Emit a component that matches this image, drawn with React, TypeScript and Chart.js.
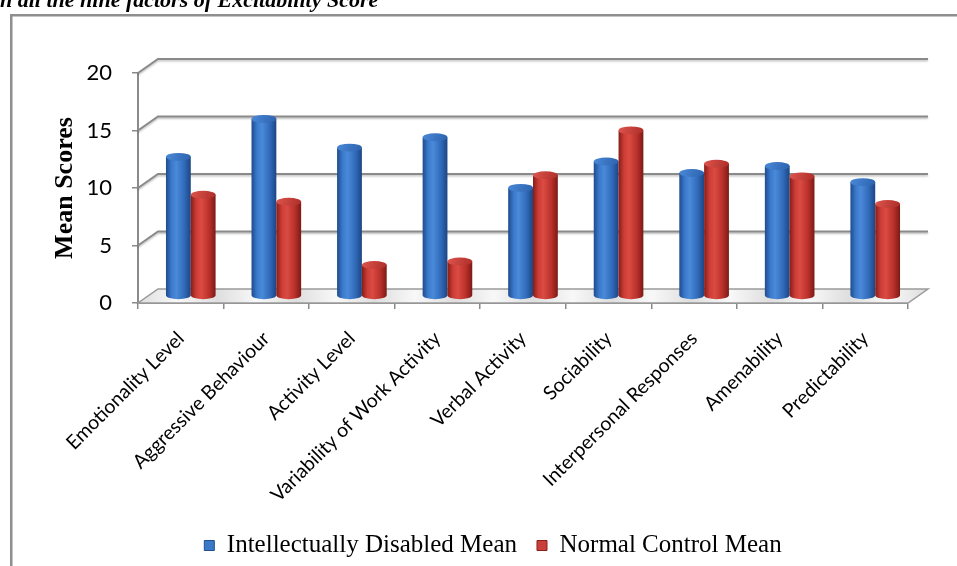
import { useEffect, useRef } from "react";
import { Chart, registerables } from "chart.js";

Chart.register(...registerables);

// Factor names along the category axis
const categories = [
  "Emotionality Level",
  "Aggressive Behaviour",
  "Activity Level",
  "Variability of Work Activity",
  "Verbal Activity",
  "Sociability",
  "Interpersonal Responses",
  "Amenability",
  "Predictability",
];

// Mean scores per factor
const disabledMean = [12.1, 15.4, 12.9, 13.8, 9.4, 11.7, 10.7, 11.3, 9.9];
const controlMean = [8.8, 8.2, 2.7, 3.0, 10.5, 14.4, 11.5, 10.4, 8.0];

const seriesLabels = ["Intellectually Disabled Mean", "Normal Control Mean"];
const yTickValues = [0, 5, 10, 15, 20];
const captionText = "n all the nine factors of Excitability Score";

// Oblique projection of the plot box depth
const DEPTH_X = 20;
const DEPTH_Y = 14;
const PLOT_BOTTOM = 303;
const PAD_BOTTOM = -2;
const LEGEND_SHIFT = 39;

const GRID_GRAY = "#8a8a8a";

type Shade = { stops: [number, string][]; cap: string; capEdge: string };
const shades: Shade[] = [
  {
    stops: [
      [0, "#1f4b8c"],
      [0.22, "#3a79cc"],
      [0.42, "#4a8ad9"],
      [0.75, "#2f69b8"],
      [1, "#1d4582"],
    ],
    cap: "#4a89d8",
    capEdge: "#2c62ad",
  },
  {
    stops: [
      [0, "#861c18"],
      [0.22, "#cc3d36"],
      [0.42, "#db4b43"],
      [0.75, "#b8302a"],
      [1, "#7c1915"],
    ],
    cap: "#de554d",
    capEdge: "#ad2d28",
  },
];

const frame3d = {
  id: "frame3d",
  beforeDraw(chart: any) {
    const { ctx } = chart;
    ctx.save();
    ctx.strokeStyle = "#8e8e8e";
    ctx.lineWidth = 2.5;
    ctx.strokeRect(11.25, 15.25, chart.width + 40, chart.height + 40);
    ctx.fillStyle = "#000";
    ctx.font = 'italic bold 22px "Liberation Serif"';
    ctx.textBaseline = "alphabetic";
    ctx.textAlign = "left";
    ctx.fillText(captionText, 0, 7);
    ctx.restore();
  },
  afterLayout(chart: any) {
    const lg = chart.legend;
    if (lg) {
      lg.left += LEGEND_SHIFT;
      lg.right += LEGEND_SHIFT;
    }
    // let the long slanted category labels run past the legend's top edge
    const xs = chart.scales.x;
    if (xs) xs.bottom = chart.height;
  },
  beforeDatasetDraw() {
    return false;
  },
  beforeDatasetsDraw(chart: any) {
    const { ctx, chartArea } = chart;
    const { left, right, bottom } = chartArea;
    const y = chart.scales.y;
    ctx.save();

    // floor
    ctx.beginPath();
    ctx.moveTo(left, bottom);
    ctx.lineTo(right, bottom);
    ctx.lineTo(right + DEPTH_X, bottom - DEPTH_Y);
    ctx.lineTo(left + DEPTH_X, bottom - DEPTH_Y);
    ctx.closePath();
    const flat = ctx.createLinearGradient(left, 0, right + DEPTH_X, 0);
    for (let i = 0; i <= 20; i++) {
      flat.addColorStop(i / 20, i % 2 === 0 ? "#dedede" : "#f8f8f8");
    }
    ctx.fillStyle = flat;
    ctx.fill();
    ctx.lineWidth = 1.5;
    ctx.strokeStyle = "#9a9a9a";
    ctx.stroke();

    // back and side wall gridlines
    ctx.strokeStyle = GRID_GRAY;
    ctx.lineWidth = 2;
    ctx.shadowColor = "rgba(0,0,0,0.25)";
    ctx.shadowOffsetY = 1.5;
    ctx.shadowBlur = 2;
    for (const v of yTickValues) {
      if (v === 0) continue;
      const py = y.getPixelForValue(v);
      ctx.beginPath();
      ctx.moveTo(left, py);
      ctx.lineTo(left + DEPTH_X, py - DEPTH_Y);
      ctx.lineTo(right + DEPTH_X, py - DEPTH_Y);
      ctx.stroke();
    }
    ctx.restore();
  },
  afterDatasetsDraw(chart: any) {
    const { ctx } = chart;
    ctx.save();
    const n = chart.data.labels.length;
    for (let idx = 0; idx < n; idx++) {
      chart.data.datasets.forEach((_ds: any, di: number) => {
        const meta = chart.getDatasetMeta(di);
        const el = meta.data[idx];
        if (!el) return;
        const { x, y, base, width } = el.getProps(["x", "y", "base", "width"], true);
        const shade = shades[di];
        const cx = x + DEPTH_X / 2;
        const top = y - DEPTH_Y / 2;
        const bot = base - DEPTH_Y / 2;
        const rx = width / 2;
        const ry = width * 0.16;

        const g = ctx.createLinearGradient(cx - rx, 0, cx + rx, 0);
        shade.stops.forEach(([o, c]) => g.addColorStop(o, c));
        ctx.beginPath();
        ctx.moveTo(cx - rx, top);
        ctx.lineTo(cx - rx, bot);
        ctx.ellipse(cx, bot, rx, ry, 0, Math.PI, 0, true);
        ctx.lineTo(cx + rx, top);
        ctx.closePath();
        ctx.fillStyle = g;
        ctx.fill();

        ctx.beginPath();
        ctx.ellipse(cx, top, rx, ry, 0, 0, Math.PI * 2);
        const cg = ctx.createLinearGradient(cx - rx, top - ry, cx + rx, top + ry);
        cg.addColorStop(0, shade.cap);
        cg.addColorStop(1, shade.capEdge);
        ctx.fillStyle = cg;
        ctx.fill();
      });
    }
    ctx.restore();
  },
};

export default function App() {
  const ref = useRef<HTMLCanvasElement>(null);

  useEffect(() => {
    if (!ref.current) return;
    const chart = new Chart(ref.current, {
      type: "bar",
      data: {
        labels: categories,
        datasets: [
          {
            label: seriesLabels[0],
            data: disabledMean,
            backgroundColor: "#3b78c8",
            borderColor: "#1f4f8f",
            borderWidth: 1,
          },
          {
            label: seriesLabels[1],
            data: controlMean,
            backgroundColor: "#c9403a",
            borderColor: "#8a1f1b",
            borderWidth: 1,
          },
        ],
      },
      options: {
        animation: false,
        responsive: false,
        events: [],
        datasets: { bar: { categoryPercentage: 0.58, barPercentage: 1 } },
        layout: { padding: { top: 73, right: 49, bottom: PAD_BOTTOM, left: 0 } },
        plugins: {
          tooltip: { enabled: false },
          legend: {
            position: "bottom",
            labels: {
              boxWidth: 10,
              boxHeight: 10,
              padding: 20,
              color: "#000",
              font: { family: '"Liberation Serif"', size: 25 },
            },
          },
        },
        scales: {
          x: {
            grid: {
              drawOnChartArea: false,
              drawTicks: true,
              tickLength: 6,
              color: GRID_GRAY,
              lineWidth: 1.5,
              offset: true,
            },
            border: { display: true, color: GRID_GRAY, width: 2 },
            ticks: {
              autoSkip: false,
              maxRotation: 45,
              minRotation: 45,
              padding: 18,
              color: "#000",
              font: { family: "Lato", size: 19.5 },
            },
            afterFit(scale: any) {
              const lg = scale.chart.legend;
              scale.height = scale.chart.height - PLOT_BOTTOM - (lg ? lg.height : 0) - PAD_BOTTOM;
              scale.paddingLeft = 0;
            },
          },
          y: {
            min: 0,
            max: 20,
            ticks: {
              stepSize: 5,
              padding: 20,
              color: "#000",
              font: { family: "Lato", size: 22 },
            },
            grid: {
              drawOnChartArea: false,
              drawTicks: true,
              tickLength: 6,
              color: GRID_GRAY,
              lineWidth: 1.5,
            },
            border: { display: true, color: GRID_GRAY, width: 2 },
            title: {
              display: true,
              text: "Mean Scores",
              color: "#000",
              padding: { top: 50, bottom: 0 },
              font: { family: '"Liberation Serif"', size: 26, weight: "bold" },
            },
            afterFit(scale: any) {
              scale.width = 138;
            },
          },
        },
      },
      plugins: [frame3d],
    });
    return () => chart.destroy();
  }, []);

  return (
    <div style={{ position: "fixed", left: 0, top: 0, width: 957, height: 566, background: "#fff" }}>
      <canvas ref={ref} width={957} height={566} style={{ display: "block" }} />
    </div>
  );
}
